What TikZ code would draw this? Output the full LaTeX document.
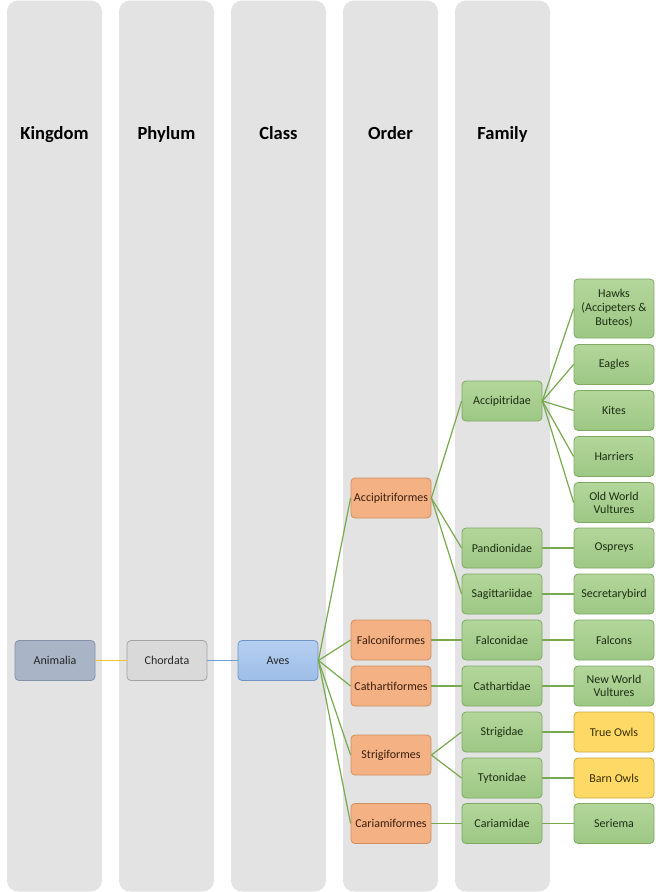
\documentclass[tikz,border=0pt]{standalone}
\usepackage{fontspec}
\setmainfont{Carlito}
\definecolor{colbg}{HTML}{E3E3E3}
\definecolor{anifill}{HTML}{A9B4C7}
\definecolor{anidraw}{HTML}{8391A8}
\definecolor{chofill}{HTML}{D9D9D9}
\definecolor{chodraw}{HTML}{A3A3A3}
\definecolor{avestop}{HTML}{B5CFF0}
\definecolor{avesbot}{HTML}{9DBDE8}
\definecolor{avesdraw}{HTML}{7194C2}
\definecolor{orfill}{HTML}{F4B183}
\definecolor{ordraw}{HTML}{CF8E62}
\definecolor{ortext}{HTML}{3A1E0E}
\definecolor{grtop}{HTML}{B3D69B}
\definecolor{grbot}{HTML}{9DC784}
\definecolor{grdraw}{HTML}{7FA865}
\definecolor{grtext}{HTML}{1C2E12}
\definecolor{yefill}{HTML}{FFD966}
\definecolor{yedraw}{HTML}{C9A640}
\definecolor{yetext}{HTML}{3A2E00}
\definecolor{lngreen}{HTML}{78A94E}
\definecolor{lnyellow}{HTML}{F4C430}
\definecolor{lnblue}{HTML}{6E9ED6}
\begin{document}
\begin{tikzpicture}[x=1pt,y=-1pt,
  colrect/.style={fill=colbg,draw=none,rounded corners=11pt},
  header/.style={font=\fontsize{18.5}{20}\selectfont\bfseries,text=black,anchor=base,inner sep=0pt},
  box/.style={minimum width=80pt,minimum height=40pt,rounded corners=4pt,inner sep=1pt,
    line width=0.8pt,align=center,font=\fontsize{12}{14}\selectfont},
  anibox/.style={box,fill=anifill,draw=anidraw,text=black!85},
  chobox/.style={box,fill=chofill,draw=chodraw,text=black!85},
  avesbox/.style={box,top color=avestop,bottom color=avesbot,draw=avesdraw,text=black!85},
  orbox/.style={box,fill=orfill,draw=ordraw,text=ortext},
  grbox/.style={box,top color=grtop,bottom color=grbot,draw=grdraw,text=grtext},
  yebox/.style={box,fill=yefill,draw=yedraw,text=yetext},
  link/.style={draw=lngreen,line width=1.2pt}
]
\useasboundingbox (0,0) rectangle (661,892);
% columns
\foreach \x in {7,119,231,343,455}{
  \path[colrect] (\x,0.5) rectangle (\x+95,891.5);
}
\node[header] (hk) at (54.5,139.5) {Kingdom};
\node[header] (hp) at (166.5,139.5) {Phylum};
\node[header] (hc) at (278.5,139.5) {Class};
\node[header] (ho) at (390.5,139.5) {Order};
\node[header] (hf) at (502.5,139.5) {Family};

% kingdom/phylum/class
\node[anibox] (animalia) at (55,660.5) {Animalia};
\node[chobox] (chordata) at (167,660.5) {Chordata};
\node[avesbox] (aves) at (278,660.5) {Aves};

% orders
\node[orbox] (accipitriformes) at (391,498) {Accipitriformes};
\node[orbox] (falconiformes) at (391,640) {Falconiformes};
\node[orbox] (cathartiformes) at (391,686) {Cathartiformes};
\node[orbox] (strigiformes) at (391,755) {Strigiformes};
\node[orbox] (cariamiformes) at (391,823.5) {Cariamiformes};

% families
\node[grbox] (accipitridae) at (502,401) {Accipitridae};
\node[grbox] (pandionidae) at (502,548) {Pandionidae};
\node[grbox] (sagittariidae) at (502,594) {Sagittariidae};
\node[grbox] (falconidae) at (502,640) {Falconidae};
\node[grbox] (cathartidae) at (502,686) {Cathartidae};
\node[grbox] (strigidae) at (502,732) {Strigidae};
\node[grbox] (tytonidae) at (502,778) {Tytonidae};
\node[grbox] (cariamidae) at (502,823.5) {Cariamidae};

% species
\node[grbox,minimum height=59pt] (hawks) at (614,308.5) {Hawks\\(Accipeters \&\\Buteos)};
\node[grbox] (eagles) at (614,364.5) {Eagles};
\node[grbox] (kites) at (614,410.5) {Kites};
\node[grbox] (harriers) at (614,456.5) {Harriers};
\node[grbox,font=\fontsize{12}{13}\selectfont] (owv) at (614,502.5) {Old World\\Vultures};
\node[grbox] (ospreys) at (614,548) {Ospreys};
\node[grbox] (secretarybird) at (614,594) {Secretarybird};
\node[grbox] (falcons) at (614,640) {Falcons};
\node[grbox,font=\fontsize{12}{13}\selectfont] (nwv) at (614,686) {New World\\Vultures};
\node[yebox] (trueowls) at (614,732) {True Owls};
\node[yebox] (barnowls) at (614,778) {Barn Owls};
\node[grbox] (seriema) at (614,823.5) {Seriema};

% connectors
\draw[draw=lnyellow,line width=1.2pt] (animalia.east) -- (chordata.west);
\draw[draw=lnblue,line width=1.2pt] (chordata.east) -- (aves.west);
\foreach \o in {accipitriformes,falconiformes,cathartiformes,strigiformes,cariamiformes}{
  \draw[link] (aves.east) -- (\o.west);
}
\foreach \f in {accipitridae,pandionidae,sagittariidae}{
  \draw[link] (accipitriformes.east) -- (\f.west);
}
\foreach \s in {hawks,eagles,kites,harriers,owv}{
  \draw[link] (accipitridae.east) -- (\s.west);
}
\draw[link] (falconiformes.east) -- (falconidae.west);
\draw[link] (cathartiformes.east) -- (cathartidae.west);
\draw[link] (strigiformes.east) -- (strigidae.west);
\draw[link] (strigiformes.east) -- (tytonidae.west);
\draw[link] (cariamiformes.east) -- (cariamidae.west);
\draw[link] (pandionidae.east) -- (ospreys.west);
\draw[link] (sagittariidae.east) -- (secretarybird.west);
\draw[link] (falconidae.east) -- (falcons.west);
\draw[link] (cathartidae.east) -- (nwv.west);
\draw[link] (strigidae.east) -- (trueowls.west);
\draw[link] (tytonidae.east) -- (barnowls.west);
\draw[link] (cariamidae.east) -- (seriema.west);
\end{tikzpicture}
\end{document}
